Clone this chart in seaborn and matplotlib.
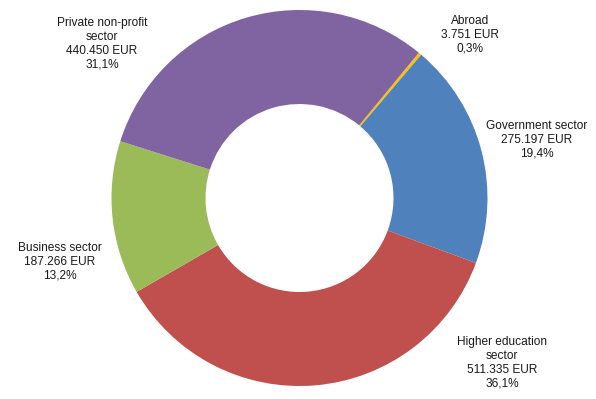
import matplotlib
matplotlib.use("Agg")
import matplotlib.pyplot as plt
import seaborn as sns

# data (clockwise, starting at the thin "Abroad" slice)
sectors = ["Abroad", "Government sector", "Higher education\nsector",
           "Business sector", "Private non-profit\nsector"]
values = [3751, 275197, 511335, 187266, 440450]
colors = ["#FFC000", "#4F81BD", "#C0504D", "#9BBB59", "#8064A2"]

# label centres in pixels of the 596x399 image
label_px = [(470, 35), (537, 140), (502, 363), (60, 262), (102, 44)]

sns.set_theme(style="white")
plt.rcParams["font.family"] = ["Liberation Sans", "DejaVu Sans"]

W, H = 596, 399
cx, cy, r = 299.5, 198, 188

fig = plt.figure(figsize=(W / 100, H / 100), dpi=100)
ax = fig.add_axes([(cx - r) / W, (H - cy - r) / H, 2 * r / W, 2 * r / H])

ax.pie(values, colors=colors, startangle=50.6, counterclock=False,
       radius=1, wedgeprops=dict(width=0.5, linewidth=0))
ax.set_xlim(-1, 1)
ax.set_ylim(-1, 1)
ax.set_aspect("equal")
ax.axis("off")

total = sum(values)
for name, v, (px, py) in zip(sectors, values, label_px):
    pct = f"{v / total * 100:.1f}".replace(".", ",")
    amount = f"{v:,}".replace(",", ".")
    txt = f"{name}\n{amount} EUR\n{pct}%"
    fig.text(px / W, 1 - py / H, txt, ha="center", va="center",
             fontsize=8.6, color="#1a1a1a", linespacing=1.22)

fig.savefig("out.png", dpi=100)
